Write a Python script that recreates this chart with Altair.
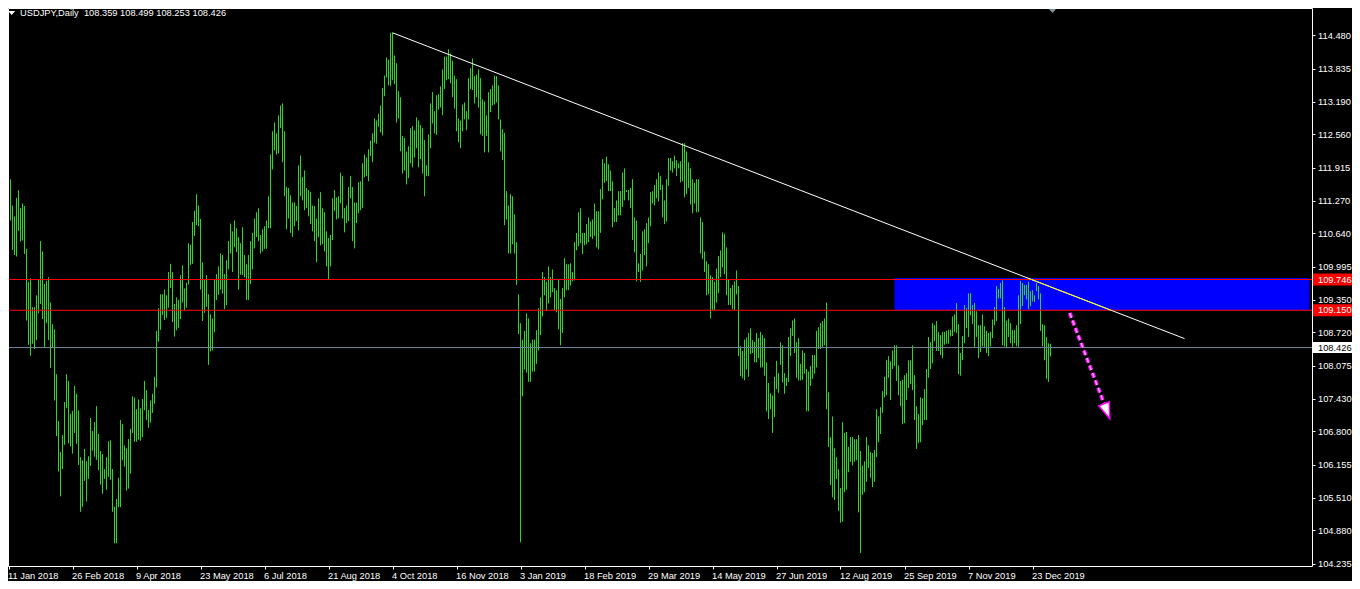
import altair as alt
import pandas as pd

# ---------------- data ----------------
SYMBOL = "USDJPY"
PERIOD = "Daily"
LAST_OHLC = [108.359, 108.499, 108.253, 108.426]

# daily highs (bar 0 = 11 Jan 2018 ... bar 521 = last bar of Dec 2019)
HIGH = [
    111.86, 111.69, 111.18, 110.97, 111.33, 111.48, 111.13, 111.22, 111.17, 110.34,
    109.70, 109.77, 109.21, 109.21, 109.44, 109.74, 110.49, 110.29, 109.66, 109.72,
    109.79, 109.30, 108.88, 108.78, 107.91, 107.00, 106.40, 106.73, 107.37, 107.91,
    107.78, 107.14, 107.20, 107.68, 107.53, 107.21, 106.30, 106.24, 106.46, 106.22,
    106.32, 107.06, 106.81, 106.98, 107.29, 106.75, 106.42, 106.36, 106.07, 106.30,
    106.61, 106.63, 106.07, 105.34, 105.49, 105.90, 107.02, 106.94, 106.53, 106.47,
    106.65, 106.85, 107.48, 107.46, 107.23, 107.42, 107.25, 107.43, 107.78, 107.60,
    107.22, 107.40, 107.53, 107.86, 108.75, 109.19, 109.46, 109.46, 109.55, 109.44,
    109.89, 110.05, 109.89, 109.27, 109.40, 109.35, 109.83, 110.02, 109.57, 109.68,
    110.45, 110.42, 110.86, 111.08, 111.40, 111.18, 110.92, 110.08, 109.74, 109.83,
    109.46, 109.07, 108.99, 109.74, 109.85, 110.00, 110.25, 110.22, 109.85, 110.12,
    110.49, 110.83, 110.68, 110.89, 110.74, 110.57, 110.45, 110.76, 110.22, 110.04,
    110.22, 110.49, 110.65, 110.93, 111.05, 111.13, 110.61, 110.72, 110.78, 110.89,
    111.36, 112.17, 112.62, 112.79, 112.58, 112.93, 113.12, 113.16, 112.62, 111.54,
    111.52, 111.38, 111.24, 111.24, 111.17, 111.96, 112.15, 111.73, 111.86, 111.52,
    111.48, 111.44, 111.18, 111.17, 110.93, 111.32, 111.44, 111.13, 111.05, 110.68,
    110.55, 110.61, 111.32, 111.48, 111.34, 111.36, 111.82, 111.75, 111.13, 111.18,
    111.54, 111.75, 111.54, 111.24, 111.24, 111.63, 111.65, 112.00, 112.17, 112.11,
    112.27, 112.44, 112.58, 112.87, 112.83, 112.96, 113.12, 113.46, 113.70, 114.05,
    114.01, 114.53, 114.53, 114.09, 113.94, 113.40, 113.28, 112.53, 112.49, 112.23,
    112.33, 112.68, 112.72, 112.64, 112.89, 112.83, 112.74, 112.68, 112.45, 111.96,
    112.56, 113.16, 113.38, 113.01, 113.32, 113.34, 113.49, 113.82, 114.07, 114.07,
    114.21, 114.13, 113.99, 113.70, 113.63, 112.87, 112.83, 113.14, 113.18, 113.01,
    113.65, 113.84, 114.03, 113.69, 113.72, 113.82, 113.65, 113.24, 113.20, 112.93,
    113.38, 113.44, 113.51, 113.70, 113.69, 113.51, 112.85, 112.66, 112.59, 111.46,
    111.18, 111.40, 111.36, 111.01, 110.47, 109.46, 108.90, 108.58, 108.75, 109.09,
    108.99, 108.51, 108.58, 108.58, 108.76, 109.19, 109.40, 109.89, 109.79, 109.70,
    110.00, 109.79, 109.94, 109.58, 109.54, 109.75, 109.37, 109.58, 110.16, 110.04,
    110.04, 110.06, 109.89, 110.47, 110.65, 111.05, 111.13, 110.65, 110.65, 110.82,
    110.95, 110.87, 110.91, 111.22, 111.07, 111.07, 111.50, 112.08, 112.00, 112.13,
    111.98, 111.86, 111.65, 111.13, 111.28, 111.46, 111.46, 111.82, 111.90, 111.48,
    111.48, 111.52, 111.69, 110.95, 110.89, 110.06, 110.24, 110.68, 110.72, 110.84,
    110.95, 111.44, 111.46, 111.58, 111.69, 111.82, 111.75, 111.58, 111.28, 111.69,
    112.10, 112.10, 112.04, 112.15, 112.06, 112.00, 112.04, 112.39, 112.39, 112.23,
    112.02, 111.90, 111.69, 111.62, 111.69, 111.69, 110.95, 110.86, 110.29, 110.10,
    110.04, 109.83, 109.79, 109.70, 109.96, 110.20, 110.31, 110.66, 110.63, 110.37,
    109.75, 109.58, 109.64, 109.71, 109.92, 109.62, 108.45, 108.36, 108.58, 108.62,
    108.71, 108.80, 108.57, 108.54, 108.71, 108.61, 108.73, 108.67, 108.61, 108.14,
    107.74, 107.54, 107.50, 107.86, 108.17, 107.93, 108.53, 108.47, 107.93, 107.84,
    108.63, 108.80, 108.95, 108.99, 108.53, 108.61, 108.11, 108.37, 108.32, 108.01,
    107.96, 108.07, 108.28, 108.28, 108.75, 108.82, 108.90, 108.94, 108.99, 109.30,
    107.56, 106.69, 107.09, 106.47, 106.30, 106.07, 105.70, 106.98, 106.77, 106.79,
    106.50, 106.69, 106.69, 106.65, 106.65, 106.73, 106.42, 106.14, 106.22, 106.69,
    106.53, 106.40, 106.38, 106.44, 107.23, 107.09, 107.27, 107.58, 107.86, 108.18,
    108.26, 108.16, 108.37, 108.47, 108.47, 108.08, 107.78, 107.80, 107.89, 107.93,
    108.18, 108.18, 108.47, 107.89, 107.29, 107.14, 107.46, 107.44, 107.62, 108.01,
    108.63, 108.53, 108.90, 108.86, 108.94, 108.73, 108.67, 108.73, 108.73, 108.75,
    108.77, 108.77, 109.03, 109.07, 109.29, 108.88, 108.32, 108.65, 109.25, 109.19,
    109.48, 109.48, 109.25, 109.29, 109.13, 108.86, 108.86, 109.07, 108.84, 108.75,
    108.71, 108.73, 108.97, 109.21, 109.62, 109.56, 109.68, 109.73, 109.21, 108.95,
    108.99, 108.90, 108.77, 108.77, 108.86, 109.44, 109.72, 109.68, 109.64, 109.64,
    109.70, 109.52, 109.54, 109.44, 109.68, 109.62, 109.48, 108.88, 108.86, 108.63,
    108.51, 108.499,
]

# daily lows, same bars
LOW = [
    111.04, 110.89, 110.32, 110.22, 110.19, 110.69, 110.48, 110.50, 110.24, 108.95,
    108.48, 108.27, 108.50, 108.40, 108.57, 109.09, 109.27, 108.98, 108.44, 108.90,
    108.57, 108.03, 108.43, 107.40, 106.71, 106.02, 105.54, 106.07, 106.54, 107.25,
    106.57, 106.51, 106.37, 106.77, 106.56, 106.15, 105.24, 105.34, 105.84, 105.44,
    105.88, 106.13, 106.43, 106.31, 106.25, 106.05, 105.77, 105.59, 105.88, 105.67,
    105.92, 105.86, 105.24, 104.63, 104.63, 105.33, 105.33, 106.24, 106.12, 105.65,
    105.69, 105.98, 106.77, 106.60, 106.60, 106.64, 106.62, 106.69, 107.21, 107.02,
    106.87, 106.97, 107.16, 107.34, 107.65, 108.54, 108.77, 109.06, 108.96, 109.00,
    109.20, 109.58, 108.92, 108.64, 108.76, 108.81, 108.98, 109.30, 109.15, 109.20,
    109.65, 110.03, 110.05, 110.59, 110.80, 110.78, 109.55, 108.94, 109.10, 109.22,
    108.09, 108.35, 108.37, 108.72, 109.35, 109.45, 109.55, 109.47, 109.17, 109.25,
    109.94, 110.25, 109.89, 110.37, 110.28, 109.55, 109.84, 109.83, 109.79, 109.35,
    109.35, 109.66, 109.94, 110.35, 110.57, 110.49, 110.25, 110.29, 110.34, 110.34,
    110.74, 110.74, 111.88, 112.25, 112.17, 112.19, 112.68, 112.02, 111.36, 110.72,
    110.93, 110.65, 110.57, 110.78, 110.88, 110.70, 111.36, 111.28, 111.09, 111.13,
    110.97, 110.82, 110.68, 110.49, 110.08, 110.57, 110.41, 110.43, 110.29, 110.00,
    109.75, 110.00, 110.51, 111.07, 110.91, 110.93, 111.22, 110.93, 110.66, 110.84,
    110.88, 111.32, 110.49, 110.35, 110.84, 111.03, 111.09, 111.13, 111.73, 111.75,
    111.65, 112.14, 112.02, 112.40, 112.38, 112.71, 112.60, 112.54, 113.30, 113.66,
    113.51, 113.50, 113.61, 113.53, 112.79, 112.87, 112.23, 111.80, 111.86, 111.59,
    111.71, 112.00, 111.92, 112.11, 112.29, 111.92, 112.08, 111.80, 111.36, 111.75,
    111.75, 112.29, 112.77, 112.58, 112.55, 113.04, 113.08, 112.93, 113.44, 113.61,
    113.63, 113.55, 113.28, 113.06, 112.62, 112.41, 112.29, 112.62, 112.85, 112.64,
    112.85, 113.44, 113.42, 113.16, 113.28, 113.08, 112.56, 112.53, 112.21, 112.53,
    112.21, 112.99, 113.12, 113.14, 113.18, 112.85, 112.23, 112.06, 110.80, 110.91,
    110.25, 110.25, 110.43, 110.25, 109.64, 108.69, 104.65, 107.48, 108.00, 107.94,
    107.76, 107.76, 107.96, 107.96, 108.11, 108.37, 108.67, 109.03, 109.44, 109.15,
    109.28, 109.40, 109.50, 109.15, 109.11, 108.78, 108.47, 108.71, 109.40, 109.54,
    109.54, 109.63, 109.71, 109.73, 110.31, 110.39, 110.45, 110.24, 110.41, 110.43,
    110.47, 110.57, 110.53, 110.59, 110.37, 110.33, 110.65, 111.30, 111.62, 111.65,
    111.46, 111.46, 110.76, 110.86, 110.86, 110.99, 110.99, 111.15, 111.28, 111.44,
    111.28, 111.13, 110.51, 110.27, 109.71, 109.89, 109.70, 109.92, 110.22, 110.00,
    110.45, 110.78, 111.22, 111.18, 111.32, 111.26, 111.48, 110.95, 110.82, 110.87,
    111.56, 111.86, 111.82, 111.90, 111.75, 111.90, 111.63, 111.65, 111.34, 111.40,
    111.52, 111.20, 111.03, 111.22, 111.05, 111.05, 110.25, 110.14, 109.89, 109.44,
    109.46, 108.99, 109.15, 109.15, 109.30, 109.48, 109.79, 109.98, 109.85, 109.44,
    109.25, 109.25, 109.17, 109.15, 109.46, 108.26, 107.87, 107.83, 107.79, 108.00,
    107.86, 108.30, 108.32, 108.14, 108.14, 108.22, 108.04, 108.04, 107.88, 107.19,
    107.04, 107.23, 106.77, 107.08, 107.62, 107.55, 108.09, 107.75, 107.53, 107.68,
    107.76, 108.26, 108.65, 108.32, 107.84, 107.79, 107.79, 107.80, 107.92, 107.19,
    107.19, 107.68, 107.82, 107.92, 108.04, 108.40, 108.40, 108.44, 108.47, 107.23,
    106.50, 105.76, 105.52, 105.47, 105.88, 105.26, 105.03, 105.05, 105.62, 105.67,
    106.01, 106.21, 106.14, 106.21, 106.24, 105.23, 104.44, 105.57, 105.62, 105.82,
    106.09, 105.90, 105.72, 105.82, 106.30, 106.59, 106.75, 107.16, 107.46, 107.50,
    107.84, 107.41, 108.01, 108.07, 107.78, 107.50, 107.29, 106.94, 106.96, 107.41,
    107.64, 107.72, 107.60, 107.02, 106.46, 106.57, 106.59, 106.92, 107.02, 107.02,
    107.84, 108.01, 108.12, 108.55, 108.36, 108.36, 108.28, 108.22, 108.48, 108.50,
    108.50, 108.64, 108.65, 108.73, 108.71, 107.91, 107.88, 108.18, 108.51, 108.80,
    108.63, 109.05, 108.88, 108.44, 108.63, 108.22, 108.34, 108.45, 108.44, 108.32,
    108.26, 108.45, 108.61, 108.86, 108.94, 109.38, 109.38, 108.47, 108.45, 108.42,
    108.63, 108.51, 108.44, 108.51, 108.45, 108.44, 108.88, 109.23, 109.44, 109.36,
    109.17, 109.23, 109.32, 109.31, 109.52, 109.36, 108.75, 108.45, 108.18, 107.82,
    107.76, 108.253,
]
assert len(HIGH) == len(LOW)

DATE_TICK_BARS = [0, 32, 64, 96, 128, 160, 192, 224, 256, 288, 320, 352, 384, 416, 448, 480, 512]
DATE_LABELS = ["11 Jan 2018", "26 Feb 2018", "9 Apr 2018", "23 May 2018", "6 Jul 2018",
               "21 Aug 2018", "4 Oct 2018", "16 Nov 2018", "3 Jan 2019", "18 Feb 2019",
               "29 Mar 2019", "14 May 2019", "27 Jun 2019", "12 Aug 2019", "25 Sep 2019",
               "7 Nov 2019", "23 Dec 2019"]
PRICE_TICKS = [114.480, 113.835, 113.190, 112.560, 111.915, 111.270, 110.640, 109.995,
               109.350, 108.720, 108.075, 107.430, 106.800, 106.155, 105.510, 104.880, 104.235]

LEVEL_PRICES = [109.746, 109.150]          # red horizontal lines
BID_PRICE = LAST_OHLC[3]                   # grey bid line
ZONE_BARS = [443, 650.5]                   # blue rectangle (time)
ZONE_PRICES = [109.774, 109.150]           # blue rectangle (price)
TREND_BARS = [192, 588]                    # white trend line anchors
TREND_PRICES = [114.53, 108.60]
ARROW_BARS = [530.6, 547.8]                # magenta dashed arrow
ARROW_PRICES = [109.095, 107.34]
ARROW_HEAD = [549.2, 107.19]
SHIFT_BAR = 522                            # chart-shift marker

# ---------------- layout / style ----------------
W, H = 1304, 558
RIGHT_PAD = 40          # keeps the svg at 1344 px so the page never rescales it
X_DOMAIN = [-0.25, 651.75]
Y_DOMAIN = [104.1905, 115.0107]
FONT = "Liberation Sans"
FS = 9.3
GREEN = "#33D22B"

xs = alt.Scale(domain=X_DOMAIN, nice=False, zero=False)
ys = alt.Scale(domain=Y_DOMAIN, nice=False, zero=False)

label_expr = ("[" + ",".join("'%s'" % s for s in DATE_LABELS) + "][indexof(["
              + ",".join(str(b) for b in DATE_TICK_BARS) + "], datum.value)]")

x_axis = alt.Axis(orient="bottom", values=DATE_TICK_BARS, labelExpr=label_expr, title=None,
                  grid=False, domainColor="white", tickColor="white", tickSize=3,
                  labelColor="white", labelFont=FONT, labelFontSize=FS, labelAlign="left",
                  labelBaseline="top", labelOffset=-1, labelPadding=2, labelOverlap=False,
                  labelFlush=False, labelBound=False)
y_axis = alt.Axis(orient="right", values=PRICE_TICKS, format=".3f", title=None, grid=False,
                  domainColor="white", tickColor="white", tickSize=3, labelColor="white",
                  labelFont=FONT, labelFontSize=FS, labelAlign="left", labelBaseline="middle",
                  labelPadding=2.5, labelOverlap=False, labelFlush=False, labelBound=False)
frame_x = alt.Axis(orient="top", labels=False, ticks=False, grid=False, title=None,
                   domainColor="white", zindex=1)
frame_y = alt.Axis(orient="left", labels=False, ticks=False, grid=False, title=None,
                   domainColor="white", zindex=1)

bars_df = pd.DataFrame({"i": list(range(len(HIGH))), "high": HIGH, "low": LOW})
one = pd.DataFrame({"k": [0]})

zone = alt.Chart(pd.DataFrame({"x0": [ZONE_BARS[0]], "x1": [ZONE_BARS[1]],
                               "p0": [ZONE_PRICES[0]], "p1": [ZONE_PRICES[1]]})).mark_rect(
    color="#0000FF", opacity=1).encode(
    x=alt.X("x0:Q", scale=xs, axis=frame_x), x2="x1:Q",
    y=alt.Y("p0:Q", scale=ys, axis=frame_y), y2="p1:Q")

bars = alt.Chart(bars_df).mark_rule(color=GREEN, strokeWidth=1).encode(
    x=alt.X("i:Q", scale=xs, axis=x_axis),
    y=alt.Y("low:Q", scale=ys, axis=y_axis), y2="high:Q")

bid = alt.Chart(pd.DataFrame({"p": [BID_PRICE]})).mark_rule(color="#778899", strokeWidth=1).encode(
    y=alt.Y("p:Q", scale=ys, axis=None))

levels = alt.Chart(pd.DataFrame({"p": LEVEL_PRICES})).mark_rule(color="#FF0000", strokeWidth=1).encode(
    y=alt.Y("p:Q", scale=ys, axis=None))

trend_df = pd.DataFrame({"x0": [TREND_BARS[0]], "x1": [TREND_BARS[1]],
                         "p0": [TREND_PRICES[0]], "p1": [TREND_PRICES[1]]})
trend = alt.Chart(trend_df).mark_rule(color="white", strokeWidth=1).encode(
    x=alt.X("x0:Q", scale=xs, axis=None), x2="x1:Q",
    y=alt.Y("p0:Q", scale=ys, axis=None), y2="p1:Q")

# part of the trend line inside the blue zone is drawn yellow (XOR look)
slope = (TREND_PRICES[1] - TREND_PRICES[0]) / (TREND_BARS[1] - TREND_BARS[0])
xa = TREND_BARS[0] + (ZONE_PRICES[0] - TREND_PRICES[0]) / slope
xb = TREND_BARS[0] + (ZONE_PRICES[1] - TREND_PRICES[0]) / slope
xa, xb = max(xa, ZONE_BARS[0]), min(xb, ZONE_BARS[1])
yel_df = pd.DataFrame({"x0": [xa], "x1": [xb],
                       "p0": [TREND_PRICES[0] + slope * (xa - TREND_BARS[0])],
                       "p1": [TREND_PRICES[0] + slope * (xb - TREND_BARS[0])]})
trend_yellow = alt.Chart(yel_df).mark_rule(color="#FFFF00", strokeWidth=1).encode(
    x=alt.X("x0:Q", scale=xs, axis=None), x2="x1:Q",
    y=alt.Y("p0:Q", scale=ys, axis=None), y2="p1:Q")

arrow_df = pd.DataFrame({"x0": [ARROW_BARS[0]], "x1": [ARROW_BARS[1]],
                         "p0": [ARROW_PRICES[0]], "p1": [ARROW_PRICES[1]]})
arrow_enc = dict(x=alt.X("x0:Q", scale=xs, axis=None), x2="x1:Q",
                 y=alt.Y("p0:Q", scale=ys, axis=None), y2="p1:Q")
arrow_outer = alt.Chart(arrow_df).mark_rule(color="#FF00FF", strokeWidth=4, strokeDash=[5, 3],
                                            strokeCap="butt").encode(**arrow_enc)
arrow_inner = alt.Chart(arrow_df).mark_rule(color="#FFA6FF", strokeWidth=1.5, strokeDash=[5, 3],
                                            strokeCap="butt").encode(**arrow_enc)
head = alt.Chart(pd.DataFrame({"x": [ARROW_HEAD[0]], "p": [ARROW_HEAD[1]]})).mark_point(
    shape="M0,1L-0.7,-1L0.7,-1Z", size=256, angle=339, filled=True, fill="white",
    stroke="#FF00FF", strokeWidth=1.5, opacity=1).encode(
    x=alt.X("x:Q", scale=xs, axis=None), y=alt.Y("p:Q", scale=ys, axis=None))

red_lab = alt.Chart(pd.DataFrame({"p": LEVEL_PRICES}))
red_boxes = red_lab.mark_rule(color="#FF0000", strokeWidth=12, strokeCap="butt").encode(
    x=alt.value(W + 1), x2=alt.value(W + RIGHT_PAD), y=alt.Y("p:Q", scale=ys, axis=None))
red_text = red_lab.mark_text(align="left", baseline="middle", color="white", font=FONT,
                             fontSize=FS).encode(
    x=alt.value(W + 6), y=alt.Y("p:Q", scale=ys, axis=None), text=alt.Text("p:Q", format=".3f"))

bid_lab = alt.Chart(pd.DataFrame({"p": [BID_PRICE]}))
bid_box = bid_lab.mark_rule(color="white", strokeWidth=11, strokeCap="butt").encode(
    x=alt.value(W + 1), x2=alt.value(W + RIGHT_PAD), y=alt.Y("p:Q", scale=ys, axis=None))
bid_text = bid_lab.mark_text(align="left", baseline="middle", color="black", font=FONT,
                             fontSize=FS).encode(
    x=alt.value(W + 6), y=alt.Y("p:Q", scale=ys, axis=None), text=alt.Text("p:Q", format=".3f"))

title_str = "%s,%s\u00a0 %s" % (SYMBOL, PERIOD, " ".join("%.3f" % v for v in LAST_OHLC))
title = alt.Chart(one).mark_text(align="left", baseline="middle", color="white", font=FONT,
                                 fontSize=FS).encode(
    x=alt.value(12), y=alt.value(5), text=alt.value(title_str))
tri = alt.Chart(one).mark_point(shape="M-1,-0.55L1,-0.55L0,0.55Z", size=49, filled=True,
                                color="white", opacity=1).encode(x=alt.value(3.7), y=alt.value(5))
shift = alt.Chart(pd.DataFrame({"x": [SHIFT_BAR]})).mark_point(
    shape="M-1,-0.55L1,-0.55L0,0.55Z", size=81, filled=True, color="#8090A0", opacity=1).encode(
    x=alt.X("x:Q", scale=xs, axis=None), y=alt.value(2.5))

chart = alt.layer(
    zone, bars, bid, levels, trend, trend_yellow, arrow_outer, arrow_inner, head,
    red_boxes, red_text, bid_box, bid_text, title, tri, shift
).resolve_axis(x="independent", y="independent").properties(
    width=W, height=H,
    padding={"left": 0, "top": 0, "right": RIGHT_PAD, "bottom": 15},
    autosize=alt.AutoSizeParams(type="none"),
).configure(background="black").configure_view(stroke=None)

chart.save("out.html", embed_options={"renderer": "svg", "actions": False})
